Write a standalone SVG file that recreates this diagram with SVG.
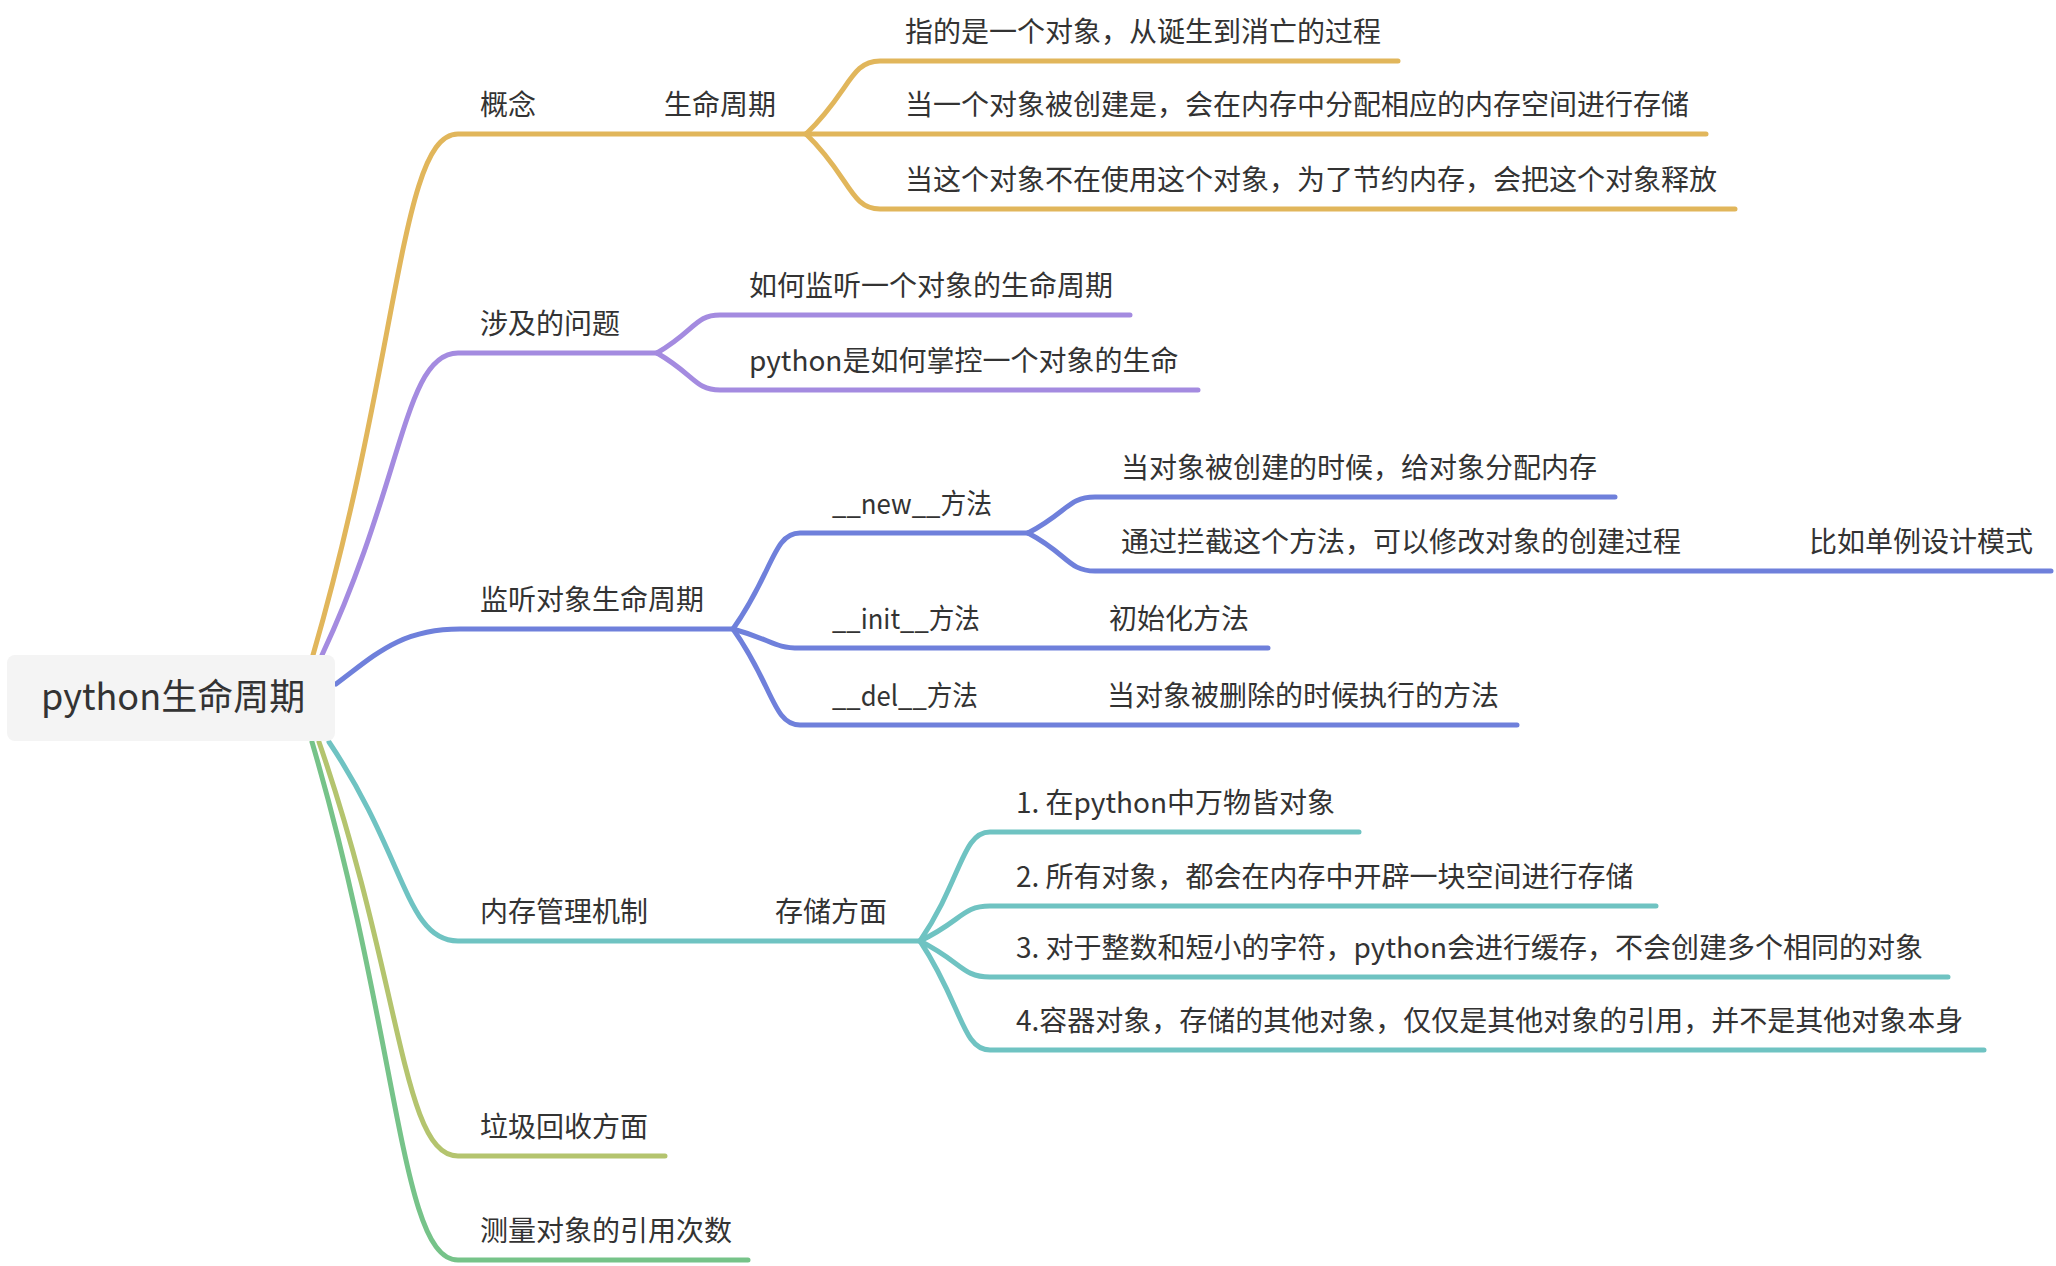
<svg xmlns="http://www.w3.org/2000/svg" width="2056" height="1266" viewBox="0 0 2056 1266">
<style>
  text { font-family: "Noto Sans CJK SC", "Noto Sans", sans-serif; font-size: 28px; fill: #333333; }
  .root-text { font-size: 36px; }
  .c { fill: none; stroke-width: 5; stroke-linecap: round; stroke-linejoin: round; }
  .gold { stroke: #E1B65B; }
  .purple { stroke: #A48BE0; }
  .blue { stroke: #6F80DB; }
  .teal { stroke: #6FC3C2; }
  .olive { stroke: #B4C46E; }
  .green { stroke: #76C389; }
</style>
<rect width="2056" height="1266" fill="#FFFFFF"/>
<g id="connectors">
  <path class="c gold" d="M313,655 C400,355 400,134 458,134 H806"/>
  <path class="c gold" d="M806,134 H1706"/>
  <path class="c gold" d="M806,134 C850,92 850,61 880,61 H1398"/>
  <path class="c gold" d="M806,134 C850,176 850,209 880,209 H1735"/>

  <path class="c purple" d="M322,655 C404,480 404,353 458,353 H657"/>
  <path class="c purple" d="M657,353 C695,331 695,315 720,315 H1130"/>
  <path class="c purple" d="M657,353 C695,375 695,390 720,390 H1198"/>

  <path class="c blue" d="M336,684 C375,655 400,629 460,629 H733"/>
  <path class="c blue" d="M733,629 C773,573 773,533 800,533 H1028"/>
  <path class="c blue" d="M733,629 C773,640 773,648 800,648 H1268"/>
  <path class="c blue" d="M733,629 C773,685 773,725 800,725 H1517"/>
  <path class="c blue" d="M1028,533 C1068,512 1068,497 1095,497 H1615"/>
  <path class="c blue" d="M1028,533 C1068,554 1068,571 1095,571 H2051"/>

  <path class="c teal" d="M329,742 C406,857 406,941 458,941 H920"/>
  <path class="c teal" d="M920,941 C962,879 962,832 990,832 H1359"/>
  <path class="c teal" d="M920,941 C962,921 962,906 990,906 H1656"/>
  <path class="c teal" d="M920,941 C962,962 962,977 990,977 H1948"/>
  <path class="c teal" d="M920,941 C962,1004 962,1050 990,1050 H1984"/>

  <path class="c olive" d="M319,742 C402,982 402,1156 458,1156 H665"/>
  <path class="c green" d="M312,742 C400,1042 400,1260 458,1260 H748"/>
</g>

<g id="root">
  <rect x="7" y="655" width="328" height="86" rx="8" ry="8" fill="#F4F4F4"/>
  <text class="root-text" x="41" y="710">python生命周期</text>
</g>

<g id="n-concept"><text x="480" y="115">概念</text></g>
<g id="n-lifecycle"><text x="664" y="115">生命周期</text></g>
<g id="n-life-1"><text x="905" y="42">指的是一个对象，从诞生到消亡的过程</text></g>
<g id="n-life-2"><text x="905" y="115">当一个对象被创建是，会在内存中分配相应的内存空间进行存储</text></g>
<g id="n-life-3"><text x="905" y="190">当这个对象不在使用这个对象，为了节约内存，会把这个对象释放</text></g>

<g id="n-issues"><text x="480" y="334">涉及的问题</text></g>
<g id="n-issue-1"><text x="749" y="296">如何监听一个对象的生命周期</text></g>
<g id="n-issue-2"><text x="749" y="371">python是如何掌控一个对象的生命</text></g>

<g id="n-listen"><text x="480" y="610">监听对象生命周期</text></g>
<g id="n-new"><text x="832" y="514" textLength="160" lengthAdjust="spacingAndGlyphs">__new__方法</text></g>
<g id="n-new-1"><text x="1121" y="478">当对象被创建的时候，给对象分配内存</text></g>
<g id="n-new-2"><text x="1121" y="552">通过拦截这个方法，可以修改对象的创建过程</text></g>
<g id="n-singleton"><text x="1809" y="552">比如单例设计模式</text></g>
<g id="n-init"><text x="832" y="629" textLength="148" lengthAdjust="spacingAndGlyphs">__init__方法</text></g>
<g id="n-init-1"><text x="1109" y="629">初始化方法</text></g>
<g id="n-del"><text x="832" y="706" textLength="146" lengthAdjust="spacingAndGlyphs">__del__方法</text></g>
<g id="n-del-1"><text x="1107" y="706">当对象被删除的时候执行的方法</text></g>

<g id="n-memory"><text x="480" y="922">内存管理机制</text></g>
<g id="n-storage"><text x="775" y="922">存储方面</text></g>
<g id="n-storage-1"><text x="1016" y="813">1. 在python中万物皆对象</text></g>
<g id="n-storage-2"><text x="1016" y="887">2. 所有对象，都会在内存中开辟一块空间进行存储</text></g>
<g id="n-storage-3"><text x="1016" y="958">3. 对于整数和短小的字符，python会进行缓存，不会创建多个相同的对象</text></g>
<g id="n-storage-4"><text x="1016" y="1031">4.容器对象，存储的其他对象，仅仅是其他对象的引用，并不是其他对象本身</text></g>

<g id="n-gc"><text x="480" y="1137">垃圾回收方面</text></g>
<g id="n-refcount"><text x="480" y="1241">测量对象的引用次数</text></g>
</svg>
